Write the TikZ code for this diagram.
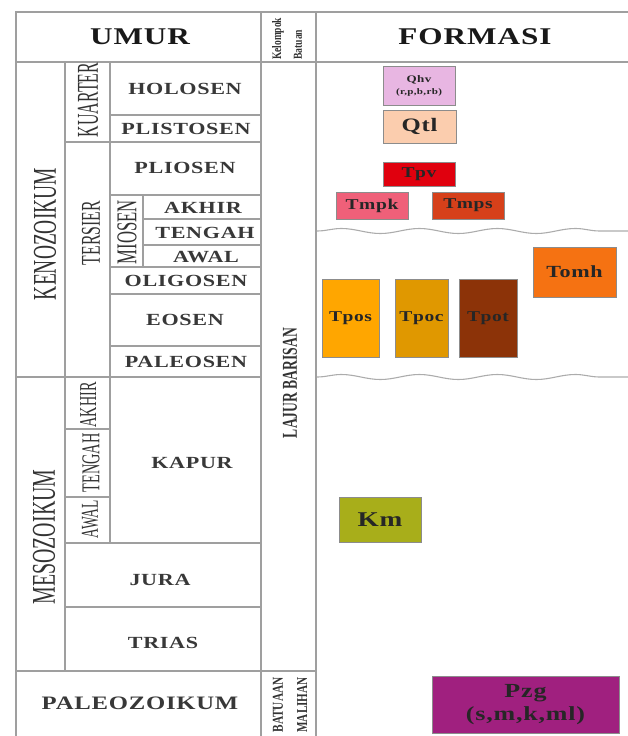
\documentclass[tikz,border=0pt]{standalone}
\usepackage{fontspec}
\setmainfont{Liberation Serif}
\newfontfamily\cellfont[FakeStretch=1.3,LetterSpace=4]{Liberation Serif}
\usetikzlibrary{decorations.pathmorphing}

\definecolor{qhvcol}{HTML}{E8B6E2}
\definecolor{qtlcol}{HTML}{FBCDAE}
\definecolor{tpvcol}{HTML}{E0000E}
\definecolor{tmpkcol}{HTML}{EF6079}
\definecolor{tmpscol}{HTML}{D6401A}
\definecolor{tomhcol}{HTML}{F57212}
\definecolor{tposcol}{HTML}{FFA600}
\definecolor{tpoccol}{HTML}{E09800}
\definecolor{tpotcol}{HTML}{8C3308}
\definecolor{kmcol}{HTML}{A8AE1A}
\definecolor{pzgcol}{HTML}{A0207F}

\newcommand{\fitto}[3]{\resizebox{#1pt}{#2pt}{#3}}

\begin{document}
\begin{tikzpicture}[x=1pt, y=-1pt,
                    rule/.style={draw=gray!75, line width=1.4pt},
                    unconf/.style={draw=gray!65, line width=1.1pt, decorate,
                                   decoration={snake, amplitude=2.5pt,
                                               segment length=78pt}},
                    headlab/.style={font=\cellfont\bfseries\fontsize{24}{24}\selectfont,
                                    text=black!90},
                    eplab/.style={font=\cellfont\bfseries\fontsize{17}{17}\selectfont,
                                  text=black!78},
                    vlab/.style={rotate=90, inner sep=0pt, text=black!80},
                    fmbox/.style={draw=black!45, line width=0.6pt, inner sep=0pt,
                                  align=center, text=black!85,
                                  font=\cellfont\bfseries\fontsize{15}{15}\selectfont},]
    \useasboundingbox (0,0) rectangle (628,736);

    % frame and columns
    \draw[rule] (628,12) -- (16,12) -- (16,736);
    \draw[rule] (16,62) -- (628,62);
    \draw[rule] (261,12) -- (261,736);
    \draw[rule] (316,12) -- (316,736);
    \draw[rule] (65,62) -- (65,671);
    \draw[rule] (110,62) -- (110,543);
    \draw[rule] (143,195) -- (143,267);

    % rows
    \draw[rule] (110,115) -- (261,115);
    \draw[rule] (65,142) -- (261,142);
    \draw[rule] (110,195) -- (261,195);
    \draw[rule] (143,219) -- (261,219);
    \draw[rule] (143,245) -- (261,245);
    \draw[rule] (110,267) -- (261,267);
    \draw[rule] (110,294) -- (261,294);
    \draw[rule] (110,346) -- (261,346);
    \draw[rule] (16,377) -- (261,377);
    \draw[rule] (65,429) -- (110,429);
    \draw[rule] (65,497) -- (110,497);
    \draw[rule] (65,543) -- (261,543);
    \draw[rule] (65,607) -- (261,607);
    \draw[rule] (16,671) -- (316,671);

    % unconformities
    \coordinate (unc1a) at (317,231);
    \coordinate (unc1b) at (628,231);
    \coordinate (unc2a) at (317,377);
    \coordinate (unc2b) at (628,377);
    \draw[unconf] (unc1a) -- (unc1b);
    \draw[unconf] (unc2a) -- (unc2b);

    % headers
    \node[headlab] (umur) at (140,37) {UMUR};
    \node[headlab] (formasi) at (475,37) {FORMASI};
    \node[vlab, anchor=west, font=\bfseries] (kelompok) at (278,60) {\fitto{42}{9}{Kelompok}};
    \node[vlab, anchor=west, font=\bfseries] (batuan) at (298,60) {\fitto{30}{8}{Batuan}};

    % eras and periods
    \node[vlab] (kenozoikum) at (45,234) {\fitto{132}{22}{KENOZOIKUM}};
    \node[vlab] (mesozoikum) at (44,537) {\fitto{135}{22}{MESOZOIKUM}};
    \node[vlab] (kuarter) at (88,100) {\fitto{74}{20}{KUARTER}};
    \node[vlab] (tersier) at (91,233) {\fitto{64}{18}{TERSIER}};
    \node[vlab] (miosen) at (127,232) {\fitto{64}{19}{MIOSEN}};
    \node[vlab] (kpakhir) at (88,405) {\fitto{45}{16}{AKHIR}};
    \node[vlab] (kptengah) at (91,463) {\fitto{59}{17}{TENGAH}};
    \node[vlab] (kpawal) at (90,519) {\fitto{38}{16}{AWAL}};
    \node[vlab, font=\bfseries] (lajur) at (290,383) {\fitto{110}{14}{LAJUR BARISAN}};
    \node[vlab, font=\bfseries] (batuaan) at (278,705) {\fitto{55}{10}{BATUAAN}};
    \node[vlab, font=\bfseries] (malihan) at (302,705) {\fitto{55}{10}{MALIHAN}};

    % epochs
    \node[eplab] (holosen) at (185,89) {HOLOSEN};
    \node[eplab] (plistosen) at (186,129) {PLISTOSEN};
    \node[eplab] (pliosen) at (185,168) {PLIOSEN};
    \node[eplab] (mioakhir) at (203,208) {AKHIR};
    \node[eplab] (miotengah) at (205,233) {TENGAH};
    \node[eplab] (mioawal) at (206,257) {AWAL};
    \node[eplab] (oligosen) at (186,281) {OLIGOSEN};
    \node[eplab] (eosen) at (185,320) {EOSEN};
    \node[eplab] (paleosen) at (186,362) {PALEOSEN};
    \node[eplab] (kapur) at (192,463) {KAPUR};
    \node[eplab] (jura) at (160,580) {JURA};
    \node[eplab] (trias) at (163,643) {TRIAS};
    \node[eplab, font=\cellfont\bfseries\fontsize{19}{19}\selectfont] (paleozoikum) at (140,703) {PALEOZOIKUM};

    % formations
    \node[fmbox, fill=qhvcol, minimum width=72pt, minimum height=39pt,
          font=\cellfont\bfseries\fontsize{10}{12}\selectfont] (qhv) at (419,85.5)
          {Qhv\\{\fontsize{8.5}{10}\selectfont(r,p,b,rb)}};
    \node[fmbox, fill=qtlcol, minimum width=73pt, minimum height=33pt,
          font=\cellfont\bfseries\fontsize{19}{19}\selectfont] (qtl) at (419.5,126.5) {Qtl};
    \node[fmbox, fill=tpvcol, minimum width=72pt, minimum height=24pt] (tpv) at (419,174) {Tpv};
    \node[fmbox, fill=tmpkcol, minimum width=72pt, minimum height=27pt] (tmpk) at (372,205.5) {Tmpk};
    \node[fmbox, fill=tmpscol, minimum width=72pt, minimum height=27pt] (tmps) at (468,205.5) {Tmps};
    \node[fmbox, fill=tomhcol, minimum width=83pt, minimum height=50pt,
          font=\cellfont\bfseries\fontsize{17}{17}\selectfont] (tomh) at (574.5,272) {Tomh};
    \node[fmbox, fill=tposcol, minimum width=57pt, minimum height=78pt] (tpos) at (350.5,318) {Tpos};
    \node[fmbox, fill=tpoccol, minimum width=53pt, minimum height=78pt] (tpoc) at (421.5,318) {Tpoc};
    \node[fmbox, fill=tpotcol, minimum width=58pt, minimum height=78pt] (tpot) at (488,318) {Tpot};
    \node[fmbox, fill=kmcol, minimum width=82pt, minimum height=45pt,
          font=\cellfont\bfseries\fontsize{21}{21}\selectfont] (km) at (380,519.5) {Km};
    \node[fmbox, fill=pzgcol, minimum width=187pt, minimum height=57pt,
          font=\cellfont\bfseries\fontsize{20}{23}\selectfont] (pzg) at (525.5,704.5)
          {Pzg\\(s,m,k,ml)};
\end{tikzpicture}
\end{document}
